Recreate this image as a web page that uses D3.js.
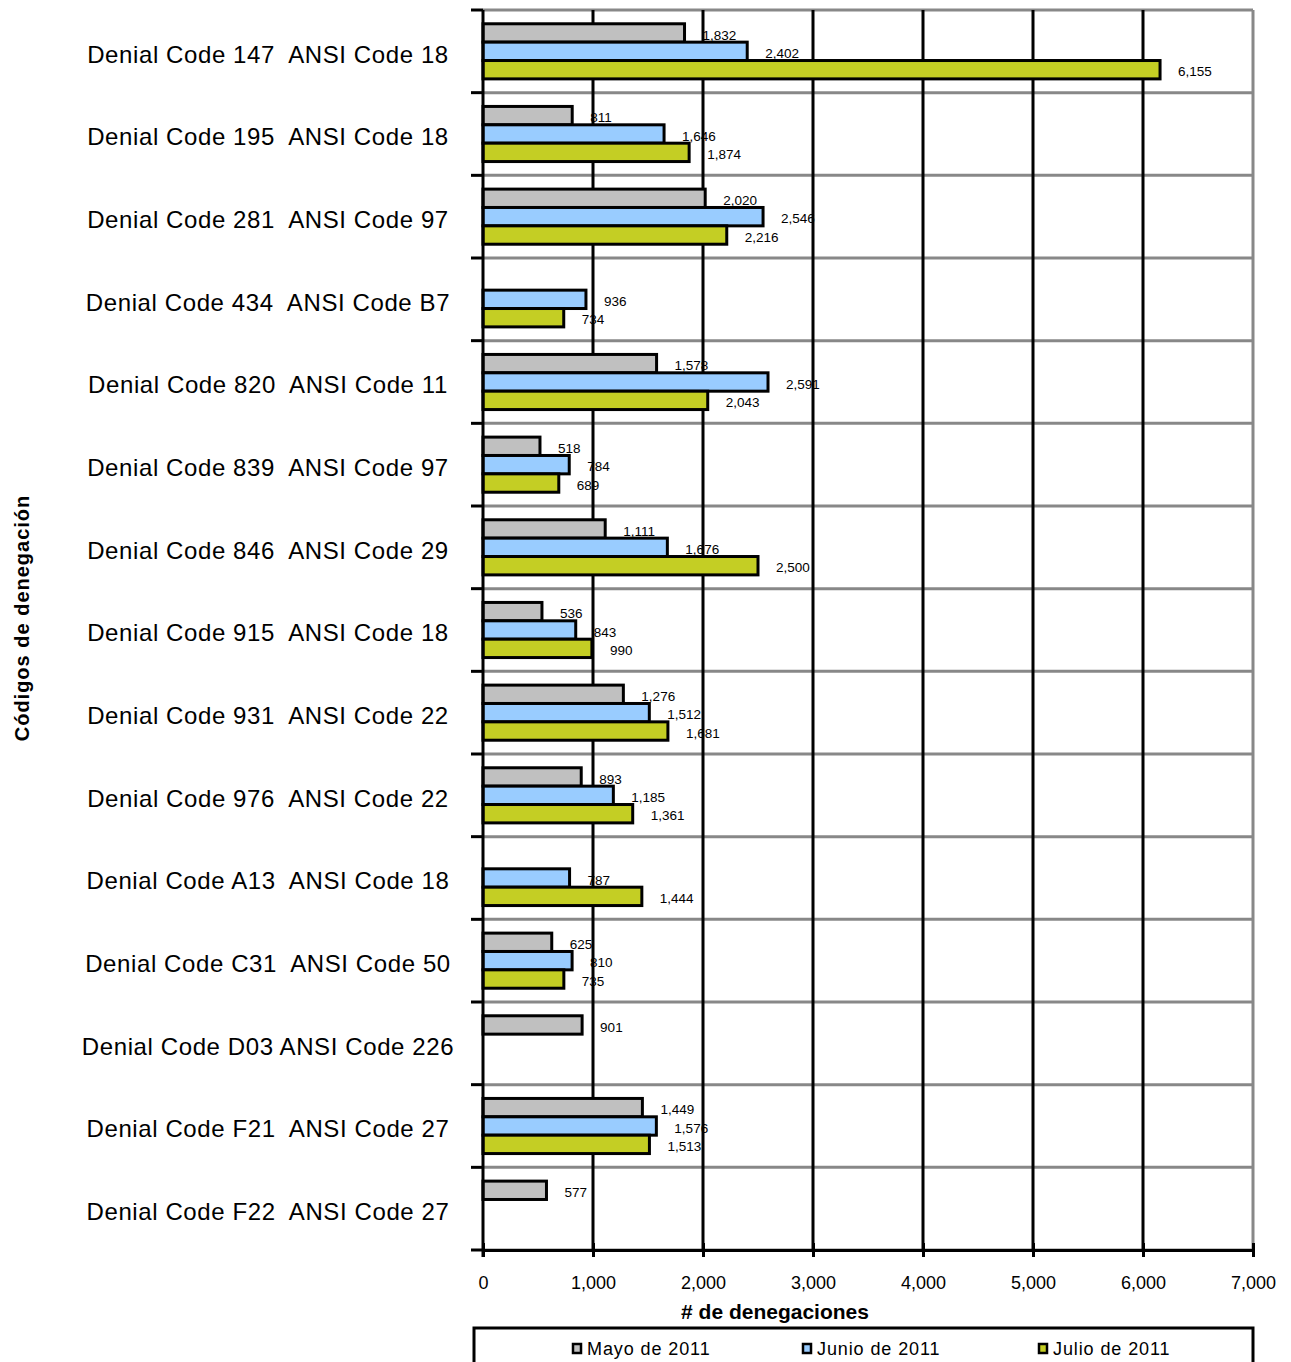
<!DOCTYPE html>
<html>
<head>
<meta charset="utf-8">
<script src="https://cdn.jsdelivr.net/npm/d3@7"></script>
<style>
  html, body { margin: 0; padding: 0; background: #fff; }
  svg { display: block; font-family: "Liberation Sans", Arial, sans-serif; }
</style>
</head>
<body>
<svg id="chart" width="1291" height="1362"></svg>
<script>
// Denial codes, top to bottom
const categories = [
  "Denial Code 147  ANSI Code 18",
  "Denial Code 195  ANSI Code 18",
  "Denial Code 281  ANSI Code 97",
  "Denial Code 434  ANSI Code B7",
  "Denial Code 820  ANSI Code 11",
  "Denial Code 839  ANSI Code 97",
  "Denial Code 846  ANSI Code 29",
  "Denial Code 915  ANSI Code 18",
  "Denial Code 931  ANSI Code 22",
  "Denial Code 976  ANSI Code 22",
  "Denial Code A13  ANSI Code 18",
  "Denial Code C31  ANSI Code 50",
  "Denial Code D03 ANSI Code 226",
  "Denial Code F21  ANSI Code 27",
  "Denial Code F22  ANSI Code 27"
];
const seriesNames = ["Mayo de 2011", "Junio de 2011", "Julio de 2011"];
const mayo  = [1832, 811, 2020, null, 1578, 518, 1111, 536, 1276, 893, null, 625, 901, 1449, 577];
const junio = [2402, 1646, 2546, 936, 2591, 784, 1676, 843, 1512, 1185, 787, 810, null, 1576, null];
const julio = [6155, 1874, 2216, 734, 2043, 689, 2500, 990, 1681, 1361, 1444, 735, null, 1513, null];
const xTicks = [0, 1000, 2000, 3000, 4000, 5000, 6000, 7000];

const seriesValues = [mayo, junio, julio];
const colors = ["#C0C0C0", "#99CCFF", "#C4CE24"];

const svg = d3.select("#chart");
const plotLeft = 483, plotRight = 1253, plotTop = 10, plotBottom = 1250;

const x = d3.scaleLinear().domain([0, 7000]).range([plotLeft, plotRight]);
const y = d3.scaleBand().domain(categories).range([plotTop, plotBottom]).paddingInner(0).paddingOuter(0);
const inner = d3.scaleBand().domain(d3.range(3)).range([0, y.bandwidth()]).paddingInner(0).paddingOuter(0.75);

const fmt = d3.format(",");

// horizontal category separators (grey)
svg.append("g").selectAll("line")
  .data(d3.range(categories.length + 1))
  .join("line")
  .attr("x1", plotLeft).attr("x2", plotRight)
  .attr("y1", i => plotTop + i * y.step()).attr("y2", i => plotTop + i * y.step())
  .attr("stroke", "#888").attr("stroke-width", 3);

// right border (grey)
svg.append("line")
  .attr("x1", plotRight).attr("x2", plotRight).attr("y1", plotTop).attr("y2", plotBottom)
  .attr("stroke", "#888").attr("stroke-width", 3);

// vertical gridlines (black)
svg.append("g").selectAll("line")
  .data(xTicks.filter(d => d > 0 && d < 7000))
  .join("line")
  .attr("x1", d => x(d)).attr("x2", d => x(d))
  .attr("y1", plotTop).attr("y2", plotBottom)
  .attr("stroke", "#000").attr("stroke-width", 3);

// bars
const groups = svg.append("g").selectAll("g")
  .data(categories)
  .join("g")
  .attr("transform", d => `translate(0,${y(d)})`);

seriesValues.forEach((vals, s) => {
  groups.filter((d, i) => vals[i] != null)
    .append("rect")
    .attr("x", x(0))
    .attr("y", inner(s))
    .attr("width", d => x(vals[categories.indexOf(d)]) - x(0))
    .attr("height", inner.bandwidth())
    .attr("fill", colors[s])
    .attr("stroke", "#000")
    .attr("stroke-width", 3);
});

// value labels
seriesValues.forEach((vals, s) => {
  groups.filter((d, i) => vals[i] != null)
    .append("text")
    .attr("x", d => x(vals[categories.indexOf(d)]) + 18)
    .attr("y", inner(s) + inner.bandwidth() / 2 + 2)
    .attr("dy", "0.35em")
    .attr("font-size", 13.5)
    .attr("fill", "#000")
    .text(d => fmt(vals[categories.indexOf(d)]));
});

// left axis line + ticks at category boundaries
svg.append("line")
  .attr("x1", plotLeft).attr("x2", plotLeft).attr("y1", plotTop).attr("y2", plotBottom + 7)
  .attr("stroke", "#000").attr("stroke-width", 3);
svg.append("g").selectAll("line")
  .data(d3.range(categories.length + 1))
  .join("line")
  .attr("x1", plotLeft - 12).attr("x2", plotLeft)
  .attr("y1", i => plotTop + i * y.step()).attr("y2", i => plotTop + i * y.step())
  .attr("stroke", "#000").attr("stroke-width", 3);

// bottom axis
const xAxis = d3.axisBottom(x).tickValues(xTicks).tickFormat(fmt).tickSize(7).tickSizeOuter(0);
const gx = svg.append("g").attr("transform", `translate(0,${plotBottom})`).call(xAxis);
gx.select(".domain").attr("stroke", "#000").attr("stroke-width", 3);
gx.selectAll(".tick line").attr("stroke", "#000").attr("stroke-width", 3).attr("y1", -7).attr("y2", 7);
gx.selectAll(".tick text").attr("y", 33).attr("dy", "0.35em")
  .attr("font-size", 18).attr("font-family", "Liberation Sans, Arial, sans-serif").attr("fill", "#000");

// category labels
svg.append("g").selectAll("text")
  .data(categories)
  .join("text")
  .attr("x", 268)
  .attr("y", d => y(d) + y.bandwidth() / 2 + 3)
  .attr("dy", "0.35em")
  .attr("text-anchor", "middle")
  .attr("font-size", 24)
  .attr("letter-spacing", 0.6)
  .attr("xml:space", "preserve")
  .style("white-space", "pre")
  .text(d => d);

// axis titles
svg.append("text")
  .attr("x", 775).attr("y", 1312).attr("dy", "0.35em")
  .attr("text-anchor", "middle")
  .attr("font-size", 21).attr("font-weight", "bold")
  .text("# de denegaciones");

svg.append("text")
  .attr("transform", "translate(22,618) rotate(-90)")
  .attr("dy", "0.35em")
  .attr("text-anchor", "middle")
  .attr("font-size", 20).attr("font-weight", "bold")
  .attr("letter-spacing", 1)
  .text("Códigos de denegación");

// legend
const lg = svg.append("g");
lg.append("rect")
  .attr("x", 474).attr("y", 1328).attr("width", 779).attr("height", 50)
  .attr("fill", "#fff").attr("stroke", "#000").attr("stroke-width", 3);
const legendX = [573, 803, 1039];
seriesNames.forEach((name, s) => {
  lg.append("rect")
    .attr("x", legendX[s]).attr("y", 1344).attr("width", 8).attr("height", 9)
    .attr("fill", colors[s]).attr("stroke", "#000").attr("stroke-width", 2.5);
  lg.append("text")
    .attr("x", legendX[s] + 14).attr("y", 1349).attr("dy", "0.35em")
    .attr("font-size", 18)
    .attr("letter-spacing", 0.9)
    .text(name);
});
</script>
</body>
</html>
